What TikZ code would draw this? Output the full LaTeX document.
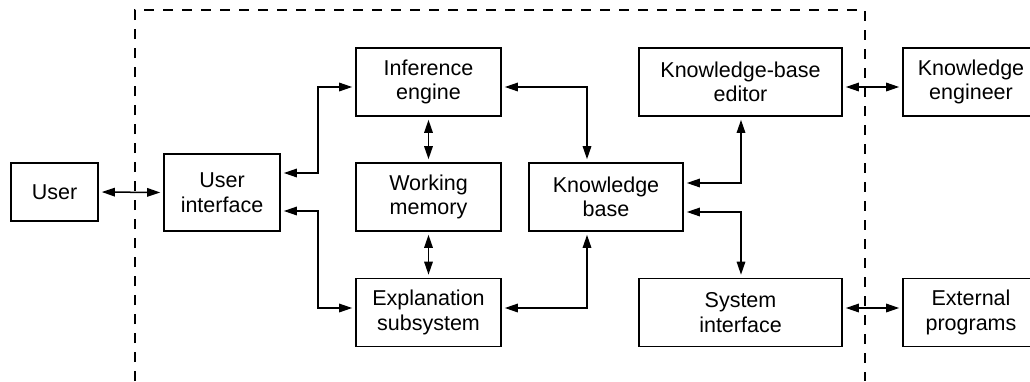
\documentclass[tikz,border=0pt]{standalone}
\usepackage{fontspec}
\setmainfont{Liberation Sans}
\usetikzlibrary{arrows.meta}
\begin{document}
\begin{tikzpicture}[x=1pt,y=-1pt,
  box/.style={draw, line width=1.6pt, inner sep=0pt, align=center,
    font=\fontsize{21.5}{24.5}\selectfont},
  arr/.style={line width=1.5pt, {Triangle[length=13pt,width=8.5pt]}-{Triangle[length=13pt,width=8.5pt]},
    shorten <=3pt, shorten >=3pt},
  boundary/.style={line width=1.1pt, dash pattern=on 10pt off 9pt}]
\useasboundingbox (0,0) rectangle (1030,381);
\clip (0,0) rectangle (1030,381);
\draw[boundary] (135,381) -- (135,10) -- (865,10) -- (865,381);
\node[box, minimum width=87pt, minimum height=58pt] (user) at (54.5,192) {User};
\node[box, minimum width=116pt, minimum height=77pt] (ui) at (222,192.5) {User\\interface};
\node[box, minimum width=145pt, minimum height=68pt] (ie) at (428.5,82) {Inference\\engine};
\node[box, minimum width=145pt, minimum height=68pt] (wm) at (428.5,197) {Working\\memory};
\node[box, minimum width=145pt, minimum height=68pt] (es) at (428.5,312.5) {Explanation\\subsystem};
\node[box, minimum width=154pt, minimum height=68pt] (kb) at (606,197) {Knowledge\\base};
\node[box, minimum width=203pt, minimum height=68pt] (kbe) at (740.5,82) {Knowledge-base\\editor};
\node[box, minimum width=203pt, minimum height=68pt] (si) at (740.5,312.5) {System\\interface};
\node[box, minimum width=136pt, minimum height=68pt] (ke) at (971,82) {Knowledge\\engineer};
\node[box, minimum width=136pt, minimum height=68pt] (ep) at (971,312.5) {External\\programs};
\coordinate (c1) at (318,173);
\coordinate (c2) at (318,211);
\coordinate (c3) at (587,87);
\coordinate (c4) at (587,308);
\coordinate (c5) at (741,183);
\coordinate (c6) at (741,212);
\draw[arr] (user.east) -- (ui.west);
\draw[arr] (ui.east |- c1) -- (c1) |- (ie.west |- c3);
\draw[arr] (ui.east |- c2) -- (c2) |- (es.west |- c4);
\draw[arr] (ie.south) -- (wm.north);
\draw[arr] (wm.south) -- (es.north);
\draw[arr] (ie.east |- c3) -| (kb.north -| c3);
\draw[arr] (es.east |- c4) -| (kb.south -| c4);
\draw[arr] (kb.east |- c5) -| (kbe.south -| c5);
\draw[arr] (kb.east |- c6) -| (si.north -| c6);
\draw[arr] (kbe.east |- c3) -- (ke.west |- c3);
\draw[arr] (si.east |- c4) -- (ep.west |- c4);
\end{tikzpicture}
\end{document}
